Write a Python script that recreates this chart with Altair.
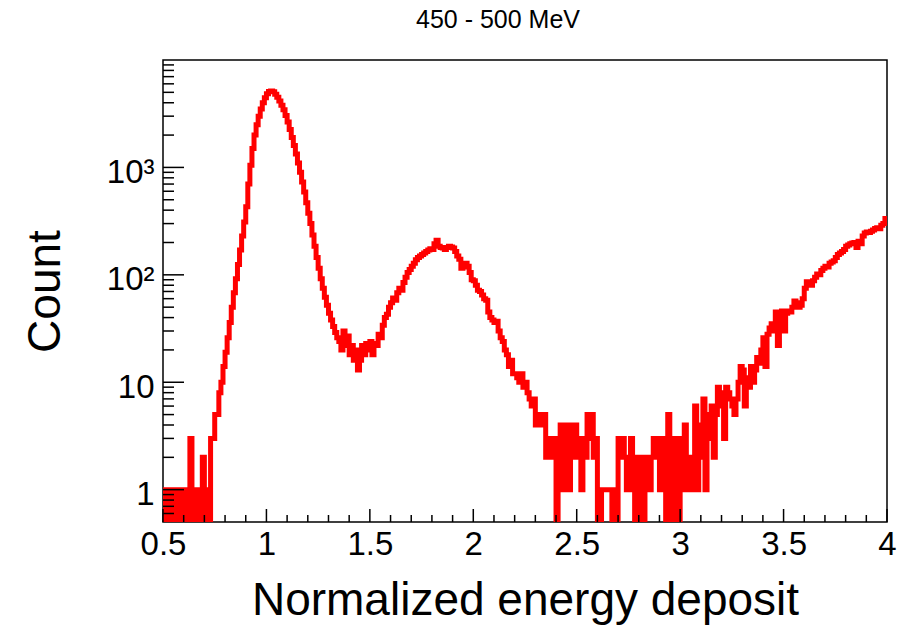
import altair as alt
import pandas as pd

# Histogram: bins of width 0.01 from 0.50 to 4.00 (counts)
BIN_LO = 0.5
BIN_W = 0.01
counts = [
    1, 0, 1, 0, 1, 1, 0, 1, 1, 0,            # 0.50
    1, 1, 0, 3, 0, 1, 1, 0, 1, 2,            # 0.60
    0, 1, 0, 3, 3, 5, 5, 8, 10, 14,          # 0.70
    19, 26, 36, 50, 68, 92, 125, 170, 230, 310,   # 0.80
    430, 700, 1050, 1500, 2000, 2500, 3000, 3500, 4000, 4450,  # 0.90
    4850, 5100, 5150, 5050, 4800, 4500, 4150, 3800, 3450, 3050,  # 1.00
    2650, 2250, 1900, 1600, 1330, 1100, 900, 730, 590, 470,  # 1.10
    375, 300, 235, 185, 145, 115, 92, 75, 62, 52,  # 1.20
    44, 38, 33, 29, 26, 24, 20, 30, 22, 27,  # 1.30
    18, 22, 16, 20, 13, 16, 22, 18, 23, 20,  # 1.40
    24, 18, 23, 22, 28, 26, 34, 40, 43, 50,  # 1.50
    55, 61, 58, 68, 75, 72, 85, 95, 105, 112,  # 1.60
    120, 128, 138, 145, 150, 155, 160, 165, 170, 175,  # 1.70
    172, 195, 210, 185, 180, 178, 172, 180, 185, 182,  # 1.80
    178, 165, 150, 140, 115, 118, 128, 120, 105, 90,  # 1.90
    88, 80, 72, 70, 65, 60, 58, 45, 40, 38,  # 2.00
    36, 37, 30, 26, 24, 20, 18, 14, 16, 12,  # 2.10
    12, 11, 10, 12, 9, 10, 8, 7, 6, 7,      # 2.20
    4, 5, 4, 5, 5, 2, 3, 2, 2, 3,           # 2.30
    0, 2, 4, 1, 4, 3, 1, 4, 2, 4,           # 2.40
    2, 3, 1, 3, 2, 5, 3, 5, 2, 3,           # 2.50
    0, 0, 1, 1, 1, 1, 1, 0, 1, 0,           # 2.60
    3, 2, 3, 2, 1, 2, 3, 1, 0, 2,           # 2.70
    0, 2, 0, 1, 2, 1, 2, 3, 2, 3,           # 2.80
    1, 3, 2, 0, 5, 1, 0, 3, 1, 0,           # 2.90
    3, 1, 4, 2, 1, 2, 1, 6, 1, 4,           # 3.00
    2, 7, 1, 5, 3, 6, 2, 5, 9, 6,           # 3.10
    8, 3, 9, 8, 7, 6, 5, 7, 10, 14,         # 3.20
    13, 6, 11, 9, 14, 10, 13, 17, 15, 20,   # 3.30
    26, 14, 28, 32, 35, 30, 45, 22, 40, 46,  # 3.40
    30, 44, 46, 45, 50, 57, 55, 50, 52, 60,  # 3.50
    75, 86, 84, 80, 88, 95, 102, 100, 110, 115,  # 3.60
    120, 118, 128, 132, 135, 145, 155, 160, 165, 172,  # 3.70
    185, 190, 195, 198, 200, 180, 205, 195, 230, 245,  # 3.80
    250, 248, 255, 262, 270, 275, 268, 290, 300, 335,  # 3.90
]

x_major = [0.5, 1.0, 1.5, 2.0, 2.5, 3.0, 3.5, 4.0]
x_minor = [0.6, 0.7, 0.8, 0.9, 1.1, 1.2, 1.3, 1.4, 1.6, 1.7, 1.8, 1.9,
           2.1, 2.2, 2.3, 2.4, 2.6, 2.7, 2.8, 2.9, 3.1, 3.2, 3.3, 3.4,
           3.6, 3.7, 3.8, 3.9]
y_major = [1, 10, 100, 1000]
y_minor = [0.6, 0.7, 0.8, 0.9, 2, 3, 4, 5, 6, 7, 8, 9,
           20, 30, 40, 50, 60, 70, 80, 90,
           200, 300, 400, 500, 600, 700, 800, 900,
           2000, 3000, 4000, 5000, 6000, 7000, 8000, 9000]

edges = [round(BIN_LO + i * BIN_W, 4) for i in range(len(counts) + 1)]
hist = pd.DataFrame({"x": edges, "count": counts + [counts[-1]]})

FONT = "Liberation Sans"
W, H = 724, 462

xscale = alt.Scale(domain=[0.5, 4.0], nice=False, zero=False)
yscale = alt.Scale(type="log", domain=[0.5, 10000], nice=False, clamp=True)

line = alt.Chart(hist).transform_calculate(
    c="max(datum.count, 0.1)"
).mark_line(
    interpolate="step-after", color="#ff0000", strokeWidth=5, clip=True,
    strokeJoin="miter"
).encode(
    x=alt.X("x:Q", scale=xscale, axis=alt.Axis(
        values=x_major, format="~g", ticks=False, tickSize=0, domain=False,
        grid=False, labelFont=FONT, labelFontSize=33, labelColor="black",
        labelPadding=6, labelFlush=False, labelOverlap=False,
        title="Normalized energy deposit", titleFont=FONT, titleFontSize=46,
        titleFontWeight="normal", titleColor="black", titleX=362, titleY=92,
        titleAlign="center", titleBaseline="alphabetic")),
    y=alt.Y("c:Q", scale=yscale, axis=alt.Axis(
        values=y_major,
        labelExpr="datum.value >= 1000 ? '10³' : datum.value >= 100 ? '10²' : datum.value >= 10 ? '10' : '1'",
        ticks=False, tickSize=0, domain=False, grid=False, labelFont=FONT,
        labelFontSize=33, labelColor="black", labelPadding=9, labelOffset=5,
        labelFlush=False, labelOverlap=False,
        title="Count", titleFont=FONT, titleFontSize=46, titleFontWeight="normal",
        titleColor="black", titleX=-104, titleY=231, titleAngle=270,
        titleAlign="center", titleBaseline="alphabetic")),
)

xmaj = alt.Chart(pd.DataFrame({"x": x_major})).mark_rule(color="black", strokeWidth=1.5).encode(
    x=alt.X("x:Q", scale=xscale), y=alt.value(H), y2=alt.value(H - 13))
xmin = alt.Chart(pd.DataFrame({"x": x_minor})).mark_rule(color="black", strokeWidth=1.5).encode(
    x=alt.X("x:Q", scale=xscale), y=alt.value(H), y2=alt.value(H - 7))
ymaj = alt.Chart(pd.DataFrame({"c": y_major})).mark_rule(color="black", strokeWidth=1.5).encode(
    y=alt.Y("c:Q", scale=yscale), x=alt.value(0), x2=alt.value(21))
ymin = alt.Chart(pd.DataFrame({"c": y_minor})).mark_rule(color="black", strokeWidth=1.5).encode(
    y=alt.Y("c:Q", scale=yscale), x=alt.value(0), x2=alt.value(11))

chart = alt.layer(line, xmaj, xmin, ymaj, ymin).properties(
    width=W, height=H,
    padding={"left": 163, "top": 60, "right": 23, "bottom": 104},
    autosize=alt.AutoSizeParams(type="none"),
    title=alt.TitleParams("450 - 500 MeV", font=FONT, fontSize=25,
                          fontWeight="normal", color="black", anchor="middle",
                          dx=-27, offset=27),
).configure(
    background="white",
    view=alt.ViewConfig(stroke="black", strokeWidth=1.5),
)

chart.save("out.html", embed_options={"renderer": "svg", "actions": False})
